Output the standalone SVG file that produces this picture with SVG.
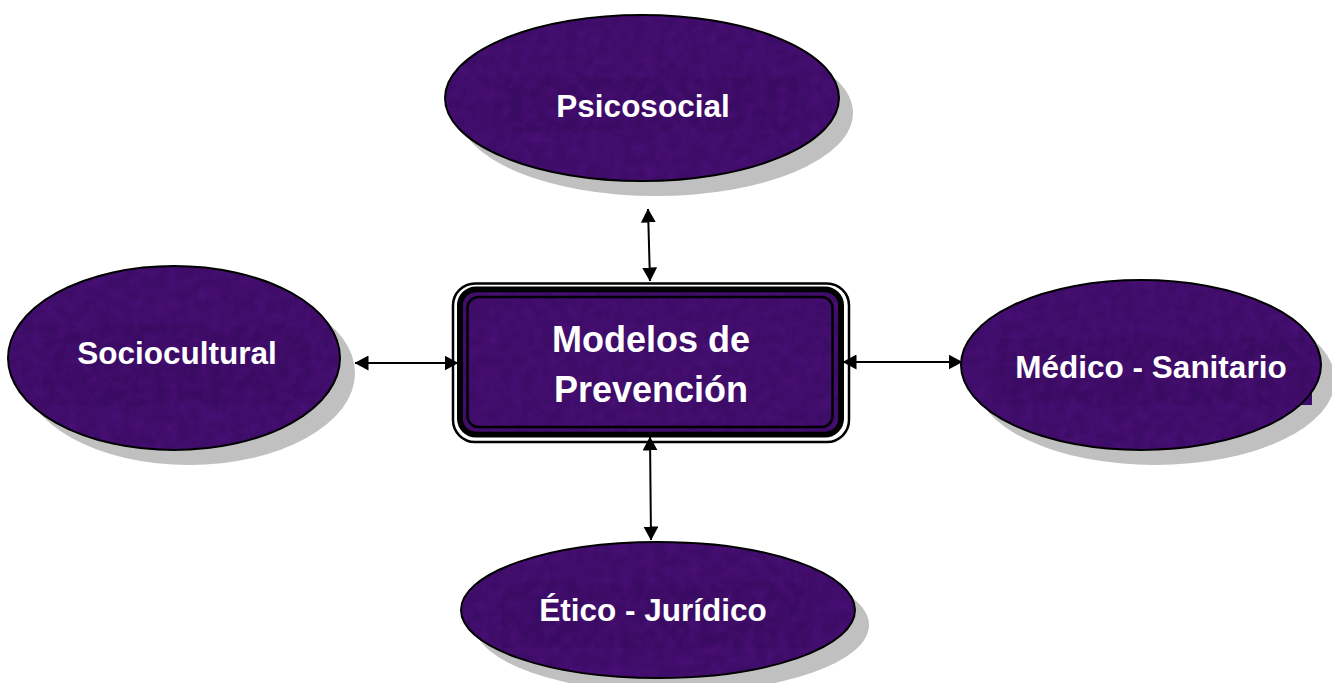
<svg xmlns="http://www.w3.org/2000/svg" width="1332" height="683" viewBox="0 0 1332 683">
<style>
.shadow{fill:#c0c0c0;stroke:none}
.fill{fill:#3d0c67;stroke:none;filter:url(#tex)}
.tbox{fill:#3a0b62;stroke:none;filter:url(#tex)}
.edge{fill:none;stroke:#000;stroke-width:2}
.lbl{font-family:"Liberation Sans",Arial,sans-serif;font-weight:bold;fill:#fff;text-anchor:middle}
.conn{stroke:#000;stroke-width:2;fill:none;marker-start:url(#ah);marker-end:url(#ah)}
</style>
<defs>
<marker id="ah" viewBox="0 0 14 15" refX="13.5" refY="7.5" markerWidth="14" markerHeight="15" markerUnits="userSpaceOnUse" orient="auto-start-reverse">
<path d="M0,0 L14,7.5 L0,15 Z" fill="#000"/>
</marker>
<filter id="tex" x="0" y="0" width="100%" height="100%" color-interpolation-filters="sRGB">
<feTurbulence type="fractalNoise" baseFrequency="0.09" numOctaves="3" seed="4" result="n"/>
<feColorMatrix in="n" type="matrix" values="0 0 0 0 0.33  0 0 0 0 0.07  0 0 0 0 0.52  0.9 0 0 0 -0.3" result="c"/>
<feComposite in="c" in2="SourceGraphic" operator="atop"/>
</filter>
</defs>
<rect x="0" y="0" width="1332" height="683" fill="#fff"/>

<g id="psicosocial">
<ellipse class="shadow" cx="656" cy="113" rx="197" ry="83"/>
<ellipse class="fill" cx="642" cy="98" rx="197" ry="83"/>
<rect class="tbox" x="493" y="77" width="304" height="54"/>
<ellipse class="edge" cx="642" cy="98" rx="197" ry="83"/>
<text class="lbl" x="643" y="117" font-size="31.5">Psicosocial</text>
</g>

<g id="sociocultural">
<ellipse class="shadow" cx="189" cy="373" rx="166" ry="92"/>
<ellipse class="fill" cx="174" cy="358" rx="166" ry="92"/>
<rect class="tbox" x="43" y="325" width="267" height="80"/>
<ellipse class="edge" cx="174" cy="358" rx="166" ry="92"/>
<text class="lbl" x="177" y="364" font-size="31.5">Sociocultural</text>
</g>

<g id="medico-sanitario">
<ellipse class="shadow" cx="1155" cy="380" rx="180" ry="85"/>
<ellipse class="fill" cx="1141" cy="365" rx="180" ry="85"/>
<rect class="tbox" x="993" y="338" width="319" height="67"/>
<ellipse class="edge" cx="1141" cy="365" rx="180" ry="85"/>
<text class="lbl" x="1151" y="378" font-size="31.5">Médico - Sanitario</text>
</g>

<g id="etico-juridico">
<ellipse class="shadow" cx="672" cy="625" rx="197" ry="68"/>
<ellipse class="fill" cx="658" cy="610" rx="197" ry="68"/>
<rect class="tbox" x="501" y="582" width="311" height="66"/>
<ellipse class="edge" cx="658" cy="610" rx="197" ry="68"/>
<text class="lbl" x="653" y="621" font-size="31.5">Ético - Jurídico</text>
</g>

<g id="modelos-de-prevencion">
<rect x="453" y="283.5" width="396" height="158.5" rx="22" fill="#fff" stroke="#000" stroke-width="2.5"/>
<rect x="460" y="289.5" width="381" height="145" rx="16" fill="#3d0c67" stroke="#000" stroke-width="6"/>
<rect x="463" y="292.5" width="375" height="139" rx="13" class="fill"/>
<rect x="467.5" y="297" width="365" height="130" rx="11" fill="none" stroke="#000" stroke-width="2.5"/>
<text class="lbl" x="651" y="352" font-size="36">Modelos de</text>
<text class="lbl" x="651" y="402" font-size="36">Prevención</text>
</g>

<g id="connectors">
<line class="conn" x1="648" y1="209" x2="650" y2="281"/>
<line class="conn" x1="355" y1="363" x2="458" y2="363"/>
<line class="conn" x1="843" y1="362" x2="962" y2="362"/>
<line class="conn" x1="650" y1="437" x2="651" y2="540"/>
</g>
</svg>
